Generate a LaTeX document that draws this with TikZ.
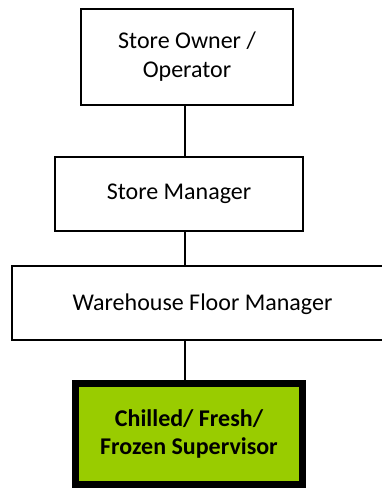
\documentclass[tikz,border=0pt]{standalone}
\usepackage{fontspec}
\setmainfont{Carlito}
\definecolor{leaf}{HTML}{99CC00}
\begin{document}
\begin{tikzpicture}[x=1pt,y=-1pt,
  box/.style={draw=black, line width=1.4pt, fill=white, rectangle, align=center,
    inner sep=0pt, font=\fontsize{24}{29}\selectfont},
  label/.style={inner sep=0pt, font=\fontsize{24}{29}\selectfont},
  hibox/.style={box, fill=leaf, line width=7pt, font=\fontsize{24}{28.5}\selectfont\bfseries},
  link/.style={draw=black, line width=1.4pt}]
\useasboundingbox (0,0) rectangle (382,488);
\clip (0,0) rectangle (382,488);
\fill[white] (0,0) rectangle (382,488);
\coordinate (spine) at (185,0);
\node[box, minimum width=212pt, minimum height=96pt] (owner) at (187,57) {Store Owner /\\Operator};
\node[box, minimum width=248pt, minimum height=74pt] (mgr) at (179,194) {Store Manager};
\node[box, minimum width=386pt, minimum height=74pt] (floor) at (205,303) {};
\node[label] (floortext) at (202.5,304) {Warehouse Floor Manager};
\node[hibox, minimum width=227pt, minimum height=101pt] (sup) at (189,434) {Chilled/ Fresh/\\Frozen Supervisor};
\draw[link] (owner.south -| spine) -- (mgr.north -| spine);
\draw[link] (mgr.south -| spine) -- (floor.north -| spine);
\draw[link] (floor.south -| spine) -- (sup.north -| spine);
\end{tikzpicture}
\end{document}
